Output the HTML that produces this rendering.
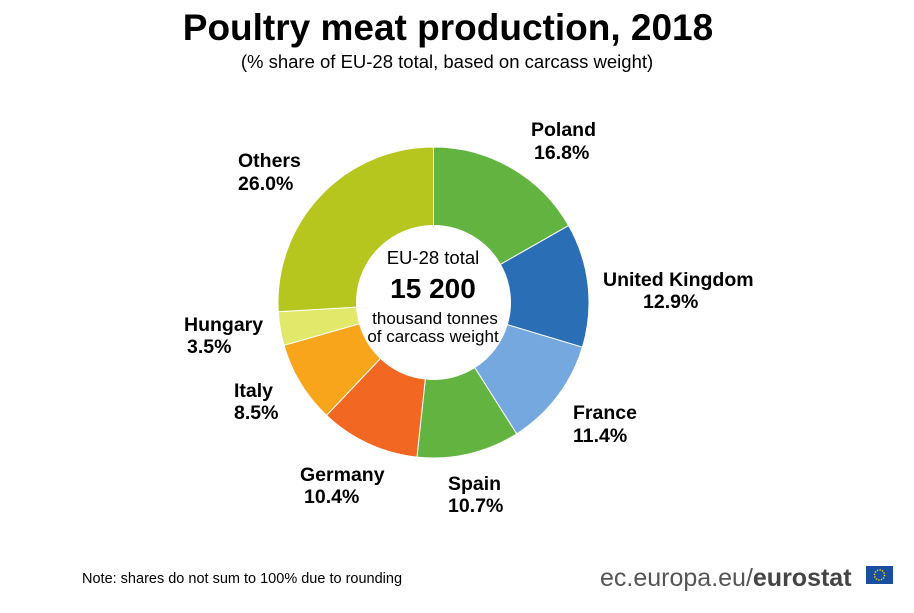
<!DOCTYPE html>
<html><head><meta charset="utf-8"><style>
body{margin:0;background:#fff;width:914px;height:608px;overflow:hidden;font-family:"Liberation Sans",Arial,sans-serif}
</style></head><body>
<svg width="914" height="608" viewBox="0 0 914 608" xmlns="http://www.w3.org/2000/svg" font-family="Liberation Sans, Arial, sans-serif">
<text x="448" y="40" text-anchor="middle" font-size="37" font-weight="bold" fill="#000">Poultry meat production, 2018</text>
<text x="447" y="68" text-anchor="middle" font-size="18.5" fill="#000">(% share of EU-28 total, based on carcass weight)</text>
<g id="slices"></g>
<g id="labels"></g>
<text x="433" y="264" text-anchor="middle" font-size="18.5">EU-28 total</text>
<text x="433" y="298" text-anchor="middle" font-size="28" font-weight="bold">15 200</text>
<text x="435" y="324" text-anchor="middle" font-size="17">thousand tonnes</text>
<text x="433" y="342" text-anchor="middle" font-size="17">of carcass weight</text>
<text x="82" y="583" font-size="14.5">Note: shares do not sum to 100% due to rounding</text>
<g>
<text x="600" y="586" font-size="25" fill="#555">ec.europa.eu/<tspan font-weight="bold" fill="#444">eurostat</tspan></text>
<rect x="866" y="566" width="27" height="18" fill="#1a4fa0"/>
<circle cx="879.5" cy="575" r="5" fill="none" stroke="#ffdd00" stroke-width="1.5" stroke-dasharray="1.2 1.4"/>
</g>
</svg>
<script>
const categories=["Poland","United Kingdom","France","Spain","Germany","Italy","Hungary","Others"];
const shares=[16.8,12.9,11.4,10.7,10.4,8.5,3.5,26.0];
const colors=["#62b340","#2a6eb6","#76a8e0","#62b340","#f26722","#f9a51b","#e1e86a","#b7c61f"];
const labelPos=[[531,136,534,159],[603,286,643,308],[573,419,573,442],[448,490,448,512],[300,481,304,503],[234,397,234,419],[184,331,187,353],[238,167,238,190]];
const NS="http://www.w3.org/2000/svg";
const cx=433.5,cy=302.5,R=155.5,r=77;
const total=shares.reduce((a,b)=>a+b,0);
function pt(a,rad){return [cx+rad*Math.sin(a),cy-rad*Math.cos(a)];}
let acc=0;
const gS=document.getElementById('slices'),gL=document.getElementById('labels');
shares.forEach((v,i)=>{
  const a0=acc/total*2*Math.PI;acc+=v;const a1=acc/total*2*Math.PI;
  const big=(a1-a0)>Math.PI?1:0;
  const p0=pt(a0,R),p1=pt(a1,R),q1=pt(a1,r),q0=pt(a0,r);
  const p=document.createElementNS(NS,'path');
  p.setAttribute('d',`M${p0[0]},${p0[1]}A${R},${R} 0 ${big} 1 ${p1[0]},${p1[1]}L${q1[0]},${q1[1]}A${r},${r} 0 ${big} 0 ${q0[0]},${q0[1]}Z`);
  p.setAttribute('fill',colors[i]);p.setAttribute('stroke','#fff');p.setAttribute('stroke-width','1');
  
  
  gS.appendChild(p);
  const lp=labelPos[i];
  const t1=document.createElementNS(NS,'text');
  t1.setAttribute('x',lp[0]);t1.setAttribute('y',lp[1]);t1.setAttribute('font-size','19.5');t1.setAttribute('font-weight','bold');
  t1.textContent=categories[i];
  
  
  gL.appendChild(t1);
  const t2=document.createElementNS(NS,'text');
  t2.setAttribute('x',lp[2]);t2.setAttribute('y',lp[3]);t2.setAttribute('font-size','19.5');t2.setAttribute('font-weight','bold');
  t2.textContent=v.toFixed(1)+'%';
  
  
  gL.appendChild(t2);
});
</script>
</body></html>
